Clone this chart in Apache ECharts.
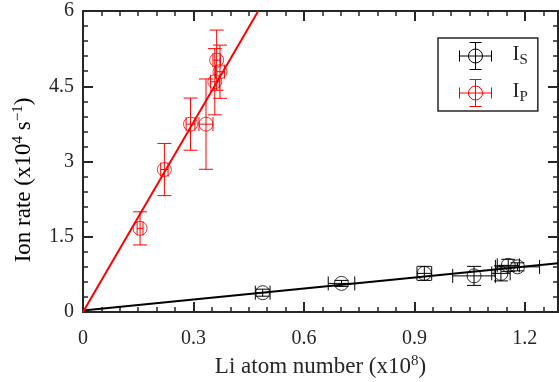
<!DOCTYPE html>
<html>
<head>
<meta charset="utf-8">
<script src="https://cdn.jsdelivr.net/npm/echarts@6/dist/echarts.min.js"></script>
<style>html,body{margin:0;padding:0;background:#fff}#c{width:559px;height:382px}</style>
</head>
<body>
<div id="c"></div>
<script>
// I_S data: [Li atom number (x1e8), ion rate (x1e4 s^-1), x error, y error]
const isX    = [0.488, 0.702, 0.927, 1.062, 1.135, 1.155, 1.180];
const isY    = [0.385, 0.570, 0.770, 0.720, 0.770, 0.930, 0.900];
const isXErr = [0.020, 0.036, 0.020, 0.058, 0.025, 0.030, 0.060];
const isYErr = [0.070, 0.060, 0.140, 0.190, 0.150, 0.120, 0.080];
// I_P data
const ipX    = [0.155, 0.221, 0.292, 0.334, 0.358, 0.363, 0.372];
const ipY    = [1.667, 2.840, 3.745, 3.745, 4.590, 5.020, 4.790];
const ipXErr = [0.008, 0.010, 0.012, 0.019, 0.012, 0.010, 0.012];
const ipYErr = [0.330, 0.520, 0.520, 0.900, 0.660, 0.600, 0.530];
// linear fits
const fitSX = [0, 1.29];
const fitSY = [0.03, 0.97];
const fitPX = [0, 0.476];
const fitPY = [0, 6];
// axis ticks
const xTicks = {min: 0, max: 1.29, interval: 0.3};
const yTicks = {min: 0, max: 6, interval: 1.5};

const FONT = 'Liberation Serif';
const AX = '#262626';
const zip4 = (a, b, c, d) => a.map((v, i) => [v, b[i], c[i], d[i]]);
const zip2 = (a, b) => a.map((v, i) => [v, b[i]]);

function errRender(color) {
  return function (params, api) {
    const x = api.value(0), y = api.value(1), xe = api.value(2), ye = api.value(3);
    const c = api.coord([x, y]);
    const l = api.coord([x - xe, y]), r = api.coord([x + xe, y]);
    const t = api.coord([x, y + ye]), b = api.coord([x, y - ye]);
    const cap = 7;
    const st = {stroke: color, lineWidth: 1, fill: 'none'};
    const ln = (x1, y1, x2, y2) => ({type: 'line', shape: {x1, y1, x2, y2}, style: st});
    return {type: 'group', children: [
      ln(l[0], c[1], r[0], c[1]),
      ln(l[0], c[1] - cap, l[0], c[1] + cap),
      ln(r[0], c[1] - cap, r[0], c[1] + cap),
      ln(c[0], t[1], c[0], b[1]),
      ln(c[0] - cap, t[1], c[0] + cap, t[1]),
      ln(c[0] - cap, b[1], c[0] + cap, b[1])
    ]};
  };
}

const iconPath = 'path://M0 13.5L32 13.5M0 8L0 19M32 8L32 19M16 0L16 27M10 0L22 0M10 27L22 27M23 13.5A7 7 0 1 1 9 13.5A7 7 0 1 1 23 13.5';

function axisStyle(showLabel, splitNumber, margin) {
  return {
    axisLine: {show: true, onZero: false, lineStyle: {color: AX, width: 2}},
    axisTick: {show: true, inside: true, length: 10, lineStyle: {color: AX, width: 2}},
    minorTick: {show: true, splitNumber: splitNumber, length: 5, lineStyle: {color: AX, width: 1.5}},
    splitLine: {show: false},
    axisLabel: {show: showLabel, color: AX, fontFamily: FONT, fontSize: 20, margin: margin,
      showMaxLabel: splitNumber === 5, showMinLabel: true}
  };
}
const richT = {
  a: {fontFamily: FONT, fontSize: 23, color: AX, lineHeight: 26, verticalAlign: 'middle'},
  s: {fontFamily: FONT, fontSize: 15, color: AX, lineHeight: 26, verticalAlign: 'top'}
};

const option = {
  animation: false,
  grid: {left: 83, top: 11, right: 1, bottom: 70, outerBoundsMode: 'none', containLabel: false},
  graphic: [{
    type: 'text', x: 24, y: 180, rotation: Math.PI / 2,
    style: {text: '{a|Ion rate (x10}{s|4}{a| s}{s|−1}{a|)}', rich: richT, align: 'center', verticalAlign: 'middle'}
  }],
  xAxis: [
    Object.assign({type: 'value', position: 'bottom', min: xTicks.min, max: xTicks.max, interval: xTicks.interval,
      name: '{a|Li atom number (x10}{s|8}{a|)}', nameLocation: 'middle', nameGap: 31,
      nameTextStyle: {color: AX, fontFamily: FONT, rich: richT}
    }, axisStyle(true, 6, 17)),
    Object.assign({type: 'value', position: 'top', min: xTicks.min, max: xTicks.max, interval: xTicks.interval},
      axisStyle(false, 6, 8))
  ],
  yAxis: [
    Object.assign({type: 'value', position: 'left', min: yTicks.min, max: yTicks.max, interval: yTicks.interval},
      axisStyle(true, 5, 9)),
    Object.assign({type: 'value', position: 'right', min: yTicks.min, max: yTicks.max, interval: yTicks.interval},
      axisStyle(false, 5, 8))
  ],
  legend: {
    orient: 'vertical', left: 438, top: 38,
    padding: [2, 10, 2, 19], itemGap: 5, itemWidth: 32, itemHeight: 27,
    borderColor: AX, borderWidth: 1.5, backgroundColor: '#fff',
    data: [
      {name: 'IS', icon: iconPath, itemStyle: {color: 'none', borderColor: '#000', borderWidth: 1}},
      {name: 'IP', icon: iconPath, itemStyle: {color: 'none', borderColor: '#ff0000', borderWidth: 1}}
    ],
    formatter: n => n === 'IS' ? '{i|I}{s|S}' : '{i|I}{s|P}',
    textStyle: {fontFamily: FONT, color: AX, lineHeight: 24, rich: {
      i: {fontFamily: FONT, fontSize: 21, color: AX, lineHeight: 20, verticalAlign: 'top', padding: [0, 0, 0, 16]},
      s: {fontFamily: FONT, fontSize: 15, color: AX, lineHeight: 24, verticalAlign: 'bottom'}}}
  },
  series: [
    {type: 'line', data: zip2(fitSX, fitSY), symbol: 'none', lineStyle: {color: '#000', width: 2}, silent: true, z: 2},
    {type: 'line', data: zip2(fitPX, fitPY), symbol: 'none', lineStyle: {color: '#ff0000', width: 2}, silent: true, z: 2},
    {type: 'custom', name: 'IS', data: zip4(isX, isY, isXErr, isYErr), renderItem: errRender('#000'), z: 3,
      itemStyle: {color: '#000'}, encode: {x: 0, y: 1}},
    {type: 'custom', name: 'IP', data: zip4(ipX, ipY, ipXErr, ipYErr), renderItem: errRender('#ff0000'), z: 3,
      itemStyle: {color: '#ff0000'}, encode: {x: 0, y: 1}},
    {type: 'scatter', name: 'IS', data: zip2(isX, isY), symbol: 'circle', symbolSize: 14, z: 4,
      itemStyle: {color: 'rgba(0,0,0,0)', borderColor: '#000', borderWidth: 1}},
    {type: 'scatter', name: 'IP', data: zip2(ipX, ipY), symbol: 'circle', symbolSize: 14, z: 4,
      itemStyle: {color: 'rgba(0,0,0,0)', borderColor: '#ff0000', borderWidth: 1}}
  ]
};
const chart = echarts.init(document.getElementById('c'), null, {renderer: 'canvas'});
chart.setOption(option);
</script>
</body>
</html>
